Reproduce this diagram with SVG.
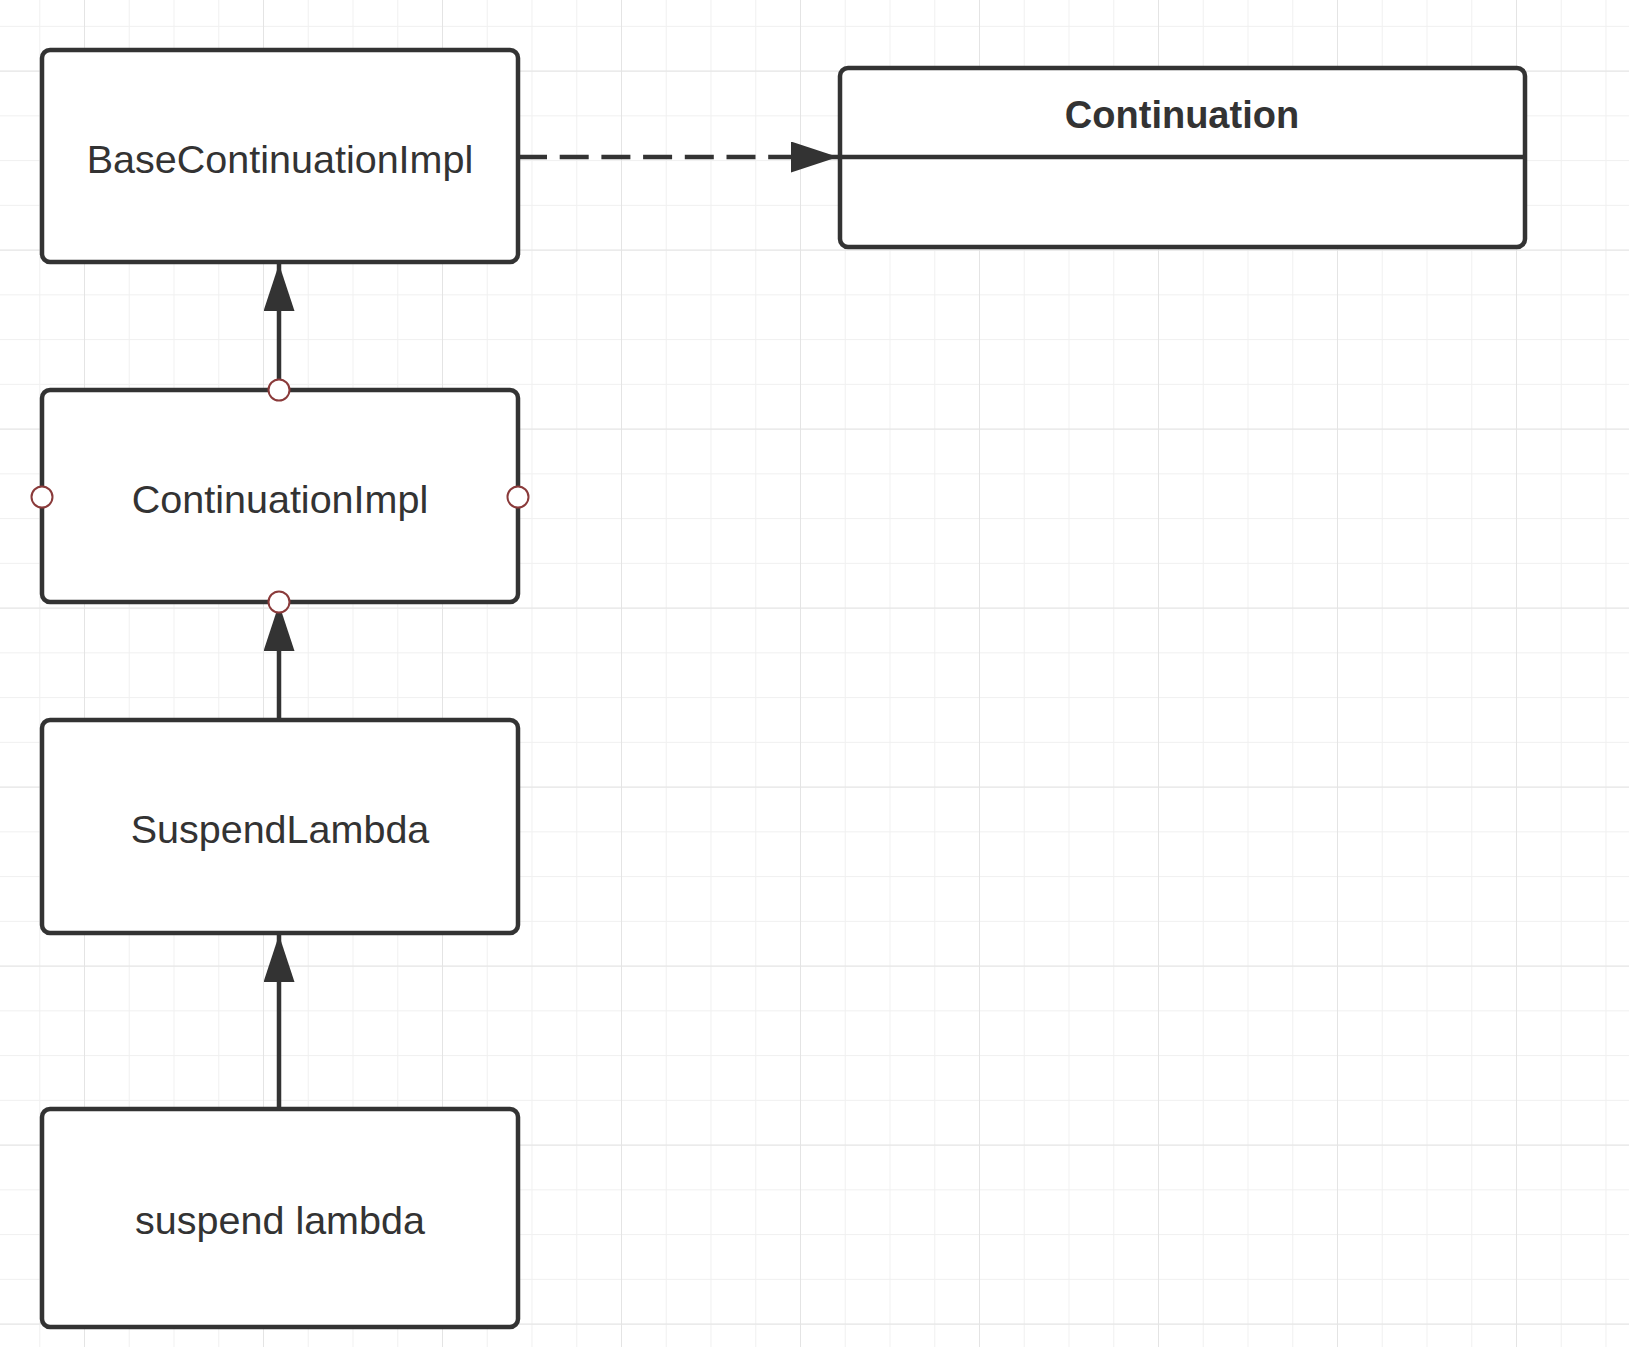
<svg xmlns="http://www.w3.org/2000/svg" width="1629" height="1347" viewBox="0 0 1629 1347">
<defs>
<pattern id="minor" patternUnits="userSpaceOnUse" x="39.25" y="25.85" width="44.75" height="44.75">
<path d="M0 0H44.75M0 0V44.75" fill="none" stroke="#f0f0f0" stroke-width="2"/>
</pattern>
<pattern id="major" patternUnits="userSpaceOnUse" x="84" y="70.6" width="179" height="179">
<path d="M0 0H179M0 0V179" fill="none" stroke="#e4e4e4" stroke-width="2"/>
</pattern>
<marker id="tri" markerUnits="userSpaceOnUse" viewBox="0 0 47 31" refX="47" refY="15.5" markerWidth="47" markerHeight="31" orient="auto">
<path d="M0 0L47 15.5L0 31Z" fill="#333333"/>
</marker>
</defs>
<style>
.box{fill:#ffffff;stroke:#333333;stroke-width:4.5}
.lbl{font-family:"Liberation Sans",Arial,sans-serif;font-size:39.5px;fill:#333333;text-anchor:middle}
.ttl{font-family:"Liberation Sans",Arial,sans-serif;font-size:38px;font-weight:bold;fill:#333333;text-anchor:middle}
.edge{fill:none;stroke:#333333;stroke-width:4.5}
.pt{fill:#ffffff;stroke:#8a3a3a;stroke-width:2}
</style>
<rect width="1629" height="1347" fill="#ffffff"/>
<rect width="1629" height="1347" fill="url(#minor)"/>
<rect width="1629" height="1347" fill="url(#major)"/>

<g id="connectors">
<line class="edge" x1="518" y1="157" x2="838" y2="157" stroke-dasharray="29 12.7" marker-end="url(#tri)"/>
<line class="edge" x1="279" y1="390" x2="279" y2="264" marker-end="url(#tri)"/>
<line class="edge" x1="279" y1="720" x2="279" y2="604" marker-end="url(#tri)"/>
<line class="edge" x1="279" y1="1108" x2="279" y2="935" marker-end="url(#tri)"/>
</g>

<g id="BaseContinuationImpl">
<rect class="box" x="42" y="50" width="476" height="212" rx="8"/>
<text class="lbl" x="280" y="173">BaseContinuationImpl</text>
</g>

<g id="Continuation">
<rect class="box" x="840" y="68" width="685" height="179" rx="8"/>
<line x1="840" y1="157" x2="1525" y2="157" stroke="#333333" stroke-width="4.5"/>
<text class="ttl" x="1182" y="128">Continuation</text>
</g>

<g id="ContinuationImpl">
<rect class="box" x="42" y="390" width="476" height="212" rx="8"/>
<text class="lbl" x="280" y="513">ContinuationImpl</text>
<circle class="pt" cx="279" cy="390" r="10.5"/>
<circle class="pt" cx="279" cy="602" r="10.5"/>
<circle class="pt" cx="42" cy="497" r="10.5"/>
<circle class="pt" cx="518" cy="497" r="10.5"/>
</g>

<g id="SuspendLambda">
<rect class="box" x="42" y="720" width="476" height="213" rx="8"/>
<text class="lbl" x="280" y="843">SuspendLambda</text>
</g>

<g id="suspend_lambda">
<rect class="box" x="42" y="1109" width="476" height="218" rx="8"/>
<text class="lbl" x="280" y="1234">suspend lambda</text>
</g>
</svg>
